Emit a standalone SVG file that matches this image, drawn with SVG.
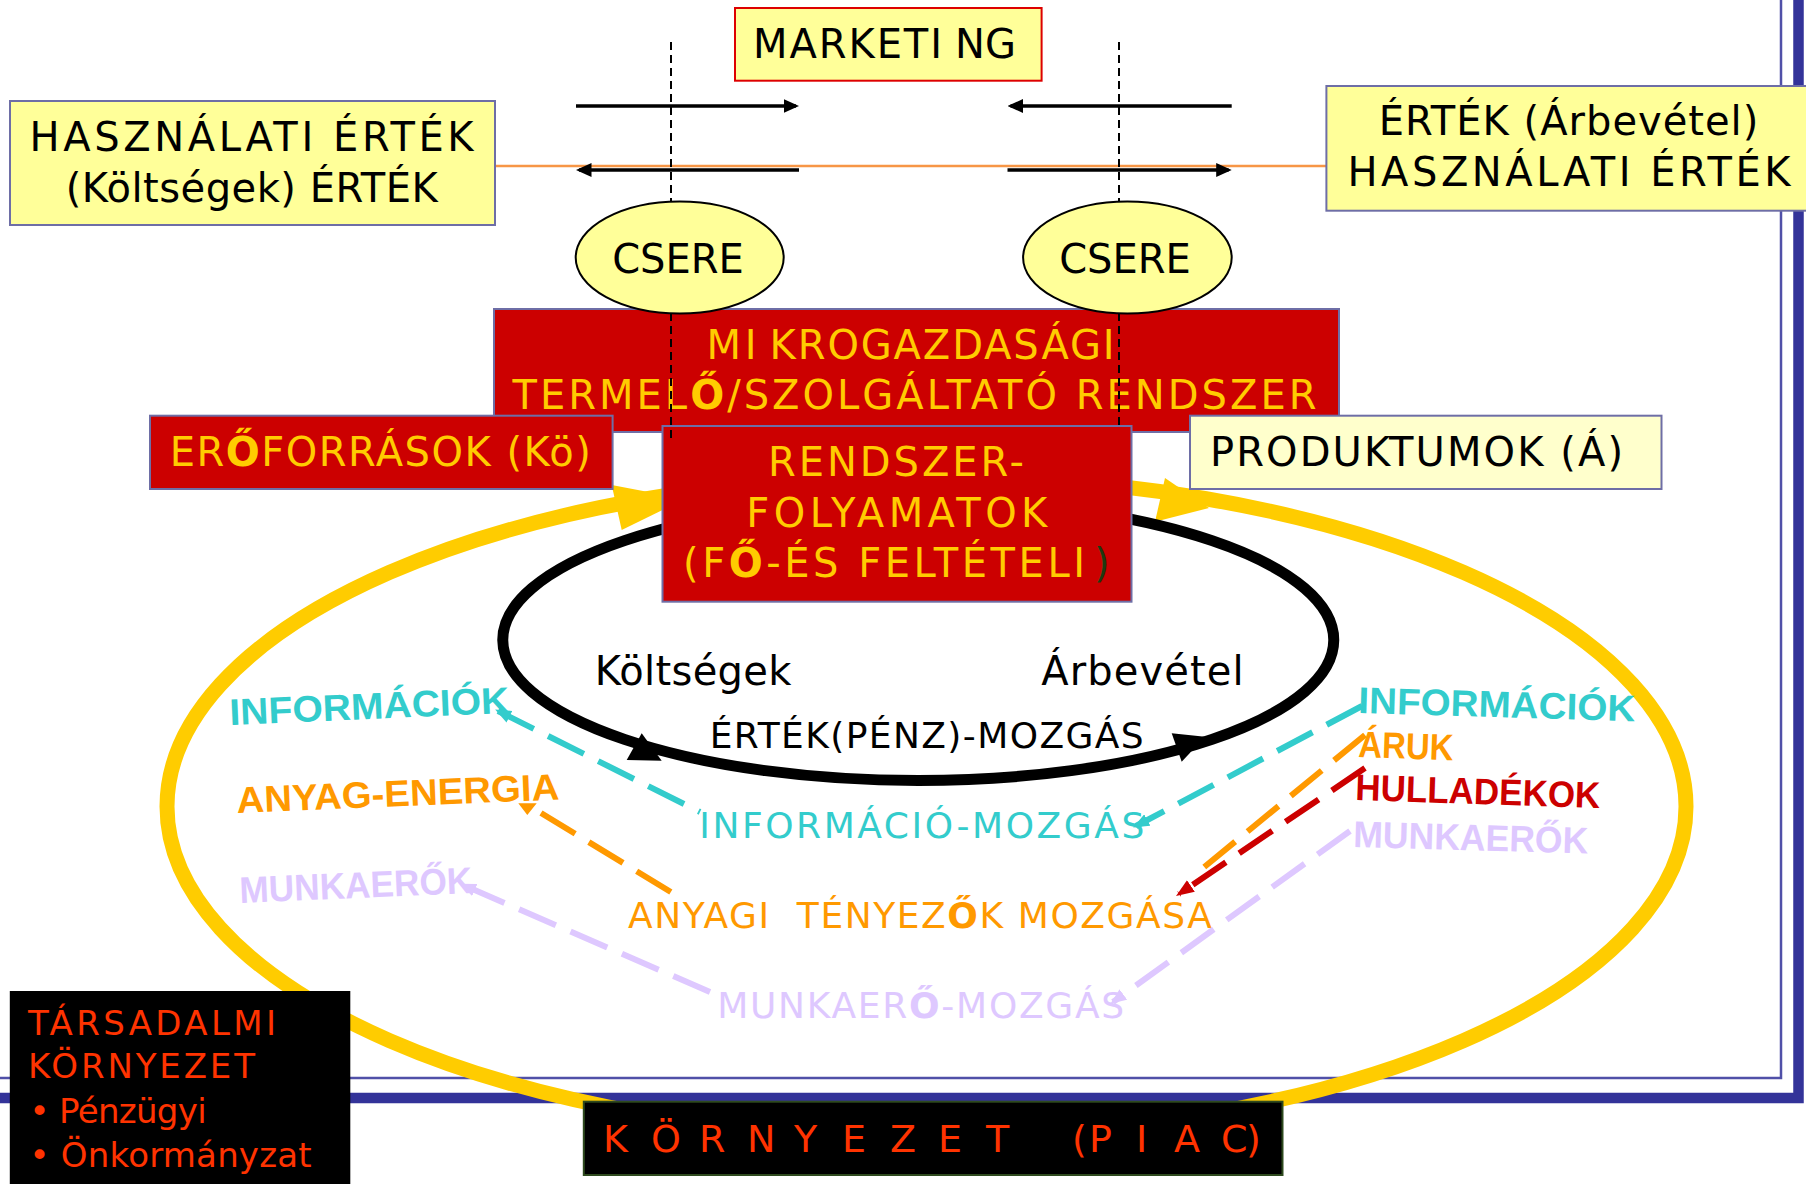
<svg xmlns="http://www.w3.org/2000/svg" width="1806" height="1184" viewBox="0 0 1806 1184">
<defs>
<style>
text{font-family:"DejaVu Sans",Verdana,sans-serif}
.c{font-family:"Liberation Sans",Arial,sans-serif;font-weight:bold;font-size:37px}
.b{font-weight:bold}
.yb{fill:#FFFF99;stroke:#6E6EA6;stroke-width:2}
.rb{fill:#CC0000;stroke:#6E6EA6;stroke-width:2}
.yt{fill:#FFCC00;font-size:40px}
.k40{fill:#000;font-size:40px}
.dash{fill:none;stroke-width:6;stroke-dasharray:40 16}
.vd{stroke:#000;stroke-width:2;stroke-dasharray:8 5;fill:none}
.arr{stroke:#000;stroke-width:3.5;fill:none}
.so{fill:#FF3300}
</style>
<marker id="mk" viewBox="0 0 10 10" refX="8" refY="5" markerWidth="15.5" markerHeight="14" markerUnits="userSpaceOnUse" orient="auto-start-reverse" preserveAspectRatio="none"><path d="M0,0L10,5L0,10z" fill="#000"/></marker>
<marker id="mc" viewBox="0 0 10 10" refX="8" refY="5" markerWidth="16" markerHeight="13" markerUnits="userSpaceOnUse" orient="auto-start-reverse" preserveAspectRatio="none"><path d="M0,0L10,5L0,10z" fill="#33CCCC"/></marker>
<marker id="mr" viewBox="0 0 10 10" refX="8" refY="5" markerWidth="18" markerHeight="14" markerUnits="userSpaceOnUse" orient="auto-start-reverse" preserveAspectRatio="none"><path d="M0,0L10,5L0,10z" fill="#CC0000"/></marker>
<marker id="ml" viewBox="0 0 10 10" refX="8" refY="5" markerWidth="16" markerHeight="13" markerUnits="userSpaceOnUse" orient="auto-start-reverse" preserveAspectRatio="none"><path d="M0,0L10,5L0,10z" fill="#DEC8FF"/></marker>
</defs>
<rect x="0" y="0" width="1806" height="1184" fill="#FFFFFF"/>

<g id="frame">
<path d="M0,1078 H1781 V0" fill="none" stroke="#5050A8" stroke-width="2.5"/>
<path d="M0,1098 H1798.5 V0" fill="none" stroke="#333399" stroke-width="10.5"/>
</g>

<g id="connectors">
<line x1="495" y1="166" x2="1326" y2="166" stroke="#F79646" stroke-width="2.5"/>
<path class="arr" d="M576,106 H795.9" marker-end="url(#mk)"/>
<path class="arr" d="M799,170 H579.1" marker-end="url(#mk)"/>
<path class="arr" d="M1231.7,106 H1010.6" marker-end="url(#mk)"/>
<path class="arr" d="M1007.5,170 H1228.6" marker-end="url(#mk)"/>
</g>

<g id="market-cycle">
<ellipse cx="926.5" cy="806.5" rx="759.5" ry="331" fill="none" stroke="#FFCC00" stroke-width="15"/>
<polygon points="611.7,485 621.7,530 685,499" fill="#FFCC00"/>
<polygon points="1165,478 1155,521.7 1209,508" fill="#FFCC00"/>
</g>

<g id="value-cycle">
<ellipse cx="918.25" cy="640" rx="415.5" ry="140.5" fill="none" stroke="#000" stroke-width="11"/>
<polygon points="641.7,733.3 626.7,760 661.7,760.7" fill="#000"/>
<polygon points="1171.7,733.3 1205,736.7 1181.7,761.7" fill="#000"/>
</g>

<g id="marketing">
<rect x="735" y="8" width="306.6" height="72.7" fill="#FFFF99" stroke="#DD0000" stroke-width="2"/>
<text class="k40" y="58.3"><tspan x="753" textLength="189" lengthAdjust="spacing">MARKETI</tspan><tspan x="955">NG</tspan></text>
</g>

<g id="hasznalati-ertek">
<rect class="yb" x="10" y="101" width="485" height="124"/>
<text class="k40" x="29.6" y="151" textLength="444" lengthAdjust="spacing">HASZNÁLATI ÉRTÉK</text>
<text class="k40" x="65.7" y="202" textLength="372" lengthAdjust="spacing">(Költségek) ÉRTÉK</text>
</g>

<g id="ertek-arbevetel">
<rect class="yb" x="1326.4" y="86" width="490" height="124.7"/>
<text class="k40" x="1378.7" y="135" textLength="379.6" lengthAdjust="spacing">ÉRTÉK (Árbevétel)</text>
<text class="k40" x="1347.5" y="185.7" textLength="443" lengthAdjust="spacing">HASZNÁLATI ÉRTÉK</text>
</g>

<g id="mikrogazdasagi">
<rect class="rb" x="494" y="309" width="845" height="123"/>
<text class="yt" y="359.3"><tspan x="706.5" textLength="50" lengthAdjust="spacing">MI</tspan><tspan x="769.6" textLength="345" lengthAdjust="spacing">KROGAZDASÁGI</tspan></text>
<text class="yt" x="512.5" y="409.3" textLength="804" lengthAdjust="spacing">TERMEL<tspan class="b">Ő</tspan>/SZOLGÁLTATÓ RENDSZER</text>
</g>

<g id="rendszerfolyamatok">
<rect class="rb" x="662.5" y="426" width="469" height="175.7"/>
<text class="yt" x="768" y="475.7" textLength="256" lengthAdjust="spacing">RENDSZER-</text>
<text class="yt" x="746.3" y="526.7" textLength="301" lengthAdjust="spacing">FOLYAMATOK</text>
<text class="yt" y="577"><tspan x="683" textLength="402" lengthAdjust="spacing">(F<tspan class="b">Ő</tspan>-ÉS FELTÉTELI</tspan><tspan x="1094" fill="#1E3A10">)</tspan></text>
</g>

<g id="eroforrasok">
<rect class="rb" x="150" y="415.7" width="462.6" height="73.3"/>
<text class="yt" x="169.8" y="465.7" textLength="421" lengthAdjust="spacing">ER<tspan class="b">Ő</tspan>FORRÁSOK (Kö)</text>
</g>

<g id="produktumok">
<rect x="1190" y="415.7" width="471.5" height="73.3" fill="#FFFFCC" stroke="#6E6EA6" stroke-width="2"/>
<text class="k40" x="1210" y="465.5" textLength="413" lengthAdjust="spacing">PRODUKTUMOK (Á)</text>
</g>

<g id="exchange-lines">
<line class="vd" x1="671" y1="42" x2="671" y2="202"/>
<line class="vd" x1="671" y1="313" x2="671" y2="442"/>
<line class="vd" x1="1119" y1="42" x2="1119" y2="202"/>
<line class="vd" x1="1119" y1="313" x2="1119" y2="426"/>
</g>

<g id="csere-left">
<ellipse cx="679.7" cy="257.5" rx="104" ry="56" fill="#FFFF99" stroke="#000" stroke-width="2"/>
<text class="k40" x="678" y="272.7" text-anchor="middle">CSERE</text>
</g>
<g id="csere-right">
<ellipse cx="1127.4" cy="257.5" rx="104.3" ry="56" fill="#FFFF99" stroke="#000" stroke-width="2"/>
<text class="k40" x="1125" y="272.7" text-anchor="middle">CSERE</text>
</g>

<g id="value-labels">
<text class="k40" x="594.7" y="685" textLength="196.7" lengthAdjust="spacing">Költségek</text>
<text class="k40" x="1041.3" y="685" textLength="202.4" lengthAdjust="spacing">Árbevétel</text>
<text x="709.7" y="748.3" font-size="36" fill="#000" textLength="434" lengthAdjust="spacing">ÉRTÉK(PÉNZ)-MOZGÁS</text>
</g>

<g id="flow-labels">
<text x="699.3" y="838.3" font-size="36" fill="#33CCCC" textLength="445" lengthAdjust="spacing">INFORMÁCIÓ-MOZGÁS</text>
<text x="628" y="928.3" font-size="36" fill="#FF9900" textLength="584" lengthAdjust="spacing" xml:space="preserve">ANYAGI  TÉNYEZ<tspan class="b">Ő</tspan>K MOZGÁSA</text>
<text x="717.2" y="1018" font-size="36" fill="#DEC8FF" textLength="407" lengthAdjust="spacing">MUNKAER<tspan class="b">Ő</tspan>-MOZGÁS</text>
</g>

<g id="inputs-left">
<text class="c" x="230" y="725" fill="#33CCCC" textLength="280" lengthAdjust="spacingAndGlyphs" transform="rotate(-2.5 230 725)">INFORMÁCIÓK</text>
<text class="c" x="237" y="813" fill="#FF9900" textLength="323" lengthAdjust="spacingAndGlyphs" transform="rotate(-2.4 237 813)">ANYAG-ENERGIA</text>
<text class="c" x="240" y="903" fill="#DEC8FF" textLength="233" lengthAdjust="spacingAndGlyphs" transform="rotate(-2.5 240 903)">MUNKAERŐK</text>
</g>

<g id="outputs-right">
<text class="c" x="1358" y="713" fill="#33CCCC" textLength="277" lengthAdjust="spacingAndGlyphs" transform="rotate(1.7 1358 713)">INFORMÁCIÓK</text>
<text class="c" x="1358" y="757" fill="#FF9900" textLength="95" lengthAdjust="spacingAndGlyphs" transform="rotate(2 1358 757)">ÁRUK</text>
<text class="c" x="1355" y="800" fill="#CC0000" textLength="245" lengthAdjust="spacingAndGlyphs" transform="rotate(1.9 1355 800)">HULLADÉKOK</text>
<text class="c" x="1353" y="847" fill="#DEC8FF" textLength="235" lengthAdjust="spacingAndGlyphs" transform="rotate(1.6 1353 847)">MUNKAERŐK</text>
</g>

<g id="flow-connectors">
<path class="dash" stroke="#33CCCC" d="M498,711 L700,812" marker-start="url(#mc)"/>
<path class="dash" stroke="#33CCCC" d="M1362,706 L1136,826" marker-end="url(#mc)"/>
<path class="dash" stroke="#FF9900" d="M541,813 L679,897"/>
<polygon points="518.3,803.3 536.7,803.3 527.3,815" fill="#FF9900"/>
<path class="dash" stroke="#FF9900" d="M1365,735 L1197,873"/>
<path class="dash" stroke="#CC0000" d="M1365,768 L1179,894" marker-end="url(#mr)"/>
<path class="dash" stroke="#DEC8FF" d="M710,992 L463,885" marker-end="url(#ml)"/>
<path class="dash" stroke="#DEC8FF" d="M1350,831 L1113,1002" marker-end="url(#ml)"/>
</g>

<g id="tarsadalmi-kornyezet">
<rect x="9.8" y="991" width="340.5" height="200" fill="#000"/>
<text class="so" x="28" y="1035" font-size="34" textLength="248" lengthAdjust="spacing">TÁRSADALMI</text>
<text class="so" x="28" y="1078.3" font-size="34" textLength="227" lengthAdjust="spacing">KÖRNYEZET</text>
<text class="so" x="29.6" y="1123.3" font-size="34" textLength="177" lengthAdjust="spacing">• Pénzügyi</text>
<text class="so" x="29.6" y="1166.7" font-size="34" textLength="282" lengthAdjust="spacing">• Önkormányzat</text>
</g>

<g id="kornyezet-piac">
<rect x="583.8" y="1101.7" width="698.7" height="73.3" fill="#000" stroke="#2E4A1E" stroke-width="2"/>
<text class="so" y="1151.7" font-size="38" xml:space="preserve" x="603 629 651 675 699 723 747 771 794 818 842 866 890 914 938 962 986 1010 1040 1072 1089 1114 1136 1156 1174 1198 1221 1246">K Ö R N Y E Z E T  (P I A C)</text>
</g>
</svg>
